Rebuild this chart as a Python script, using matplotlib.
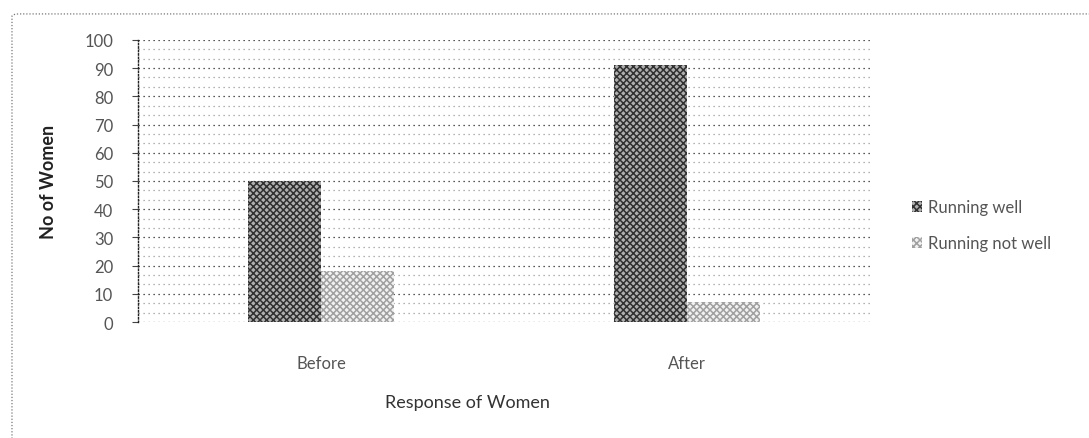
import matplotlib
matplotlib.use("Agg")
import matplotlib.pyplot as plt
from matplotlib.patches import FancyBboxPatch
import numpy as np

plt.rcParams['font.family'] = ['Lato', 'DejaVu Sans']
plt.rcParams['hatch.linewidth'] = 1.1

categories = ["Before", "After"]
running_well = [50, 91]
running_not_well = [18, 7]
series_names = ["Running well", "Running not well"]
y_ticks = list(range(0, 101, 10))

fig = plt.figure(figsize=(10.89, 4.39), dpi=100)
ax = fig.add_axes([0.127, 0.264, 0.672, 0.643])

# dotted chart-area border, open to the right and bottom
fig.patches.append(FancyBboxPatch((0.011, -0.05), 1.05, 1.016,
                                  boxstyle="round,pad=0,rounding_size=0.006",
                                  transform=fig.transFigure, fill=False,
                                  edgecolor="#777777", linewidth=0.9,
                                  linestyle=(0, (1, 1.5))))

x = np.arange(len(categories))
w = 0.2
b1 = ax.bar(x - w / 2, running_well, w, facecolor="#b0b0b0", edgecolor="#303030",
            hatch="xxxxx", linewidth=0, label=series_names[0], zorder=3)
b2 = ax.bar(x + w / 2, running_not_well, w, facecolor="#f2f2f2", edgecolor="#a0a0a0",
            hatch="xxxxx", linewidth=0, label=series_names[1], zorder=3)

ax.set_xlim(-0.5, 1.5)
ax.set_ylim(0, 100)
ax.set_yticks(y_ticks)
ax.set_yticks(np.arange(0, 100, 10 / 3), minor=True)
ax.set_xticks(x)
ax.set_xticklabels(categories)

# dotted major and minor gridlines for the patterned plot area
ax.grid(axis="y", which="major", color="#222222", linewidth=0.9, linestyle=(0, (1, 3)), zorder=1)
ax.grid(axis="y", which="minor", color="#9a9a9a", linewidth=0.9, linestyle=(0, (1, 3)), zorder=1)
ax.set_axisbelow(True)

for s in ["top", "right", "bottom"]:
    ax.spines[s].set_visible(False)
ax.spines["left"].set_color("#222222")
ax.spines["left"].set_linestyle((0, (1, 1.5)))
ax.spines["left"].set_linewidth(1.0)

ax.tick_params(axis="y", which="major", length=4, color="#444444", labelsize=12,
               labelcolor="#555555", pad=14)
ax.tick_params(axis="y", which="minor", length=0)
ax.tick_params(axis="x", length=0, labelsize=12, labelcolor="#555555", pad=24)

ax.set_ylabel("No of Women", fontsize=13, fontweight="bold", color="#222222", labelpad=20)
ax.set_xlabel("Response of Women", fontsize=13, color="#333333")
ax.xaxis.set_label_coords(0.45, -0.255)

fig.legend(handles=[b1, b2], labels=series_names, loc="center left",
           bbox_to_anchor=(0.824, 0.485), frameon=False, fontsize=12,
           labelcolor="#555555", handlelength=0.6, handleheight=0.6,
           handletextpad=0.35, labelspacing=1.2)

fig.savefig("out.png", dpi=100)
